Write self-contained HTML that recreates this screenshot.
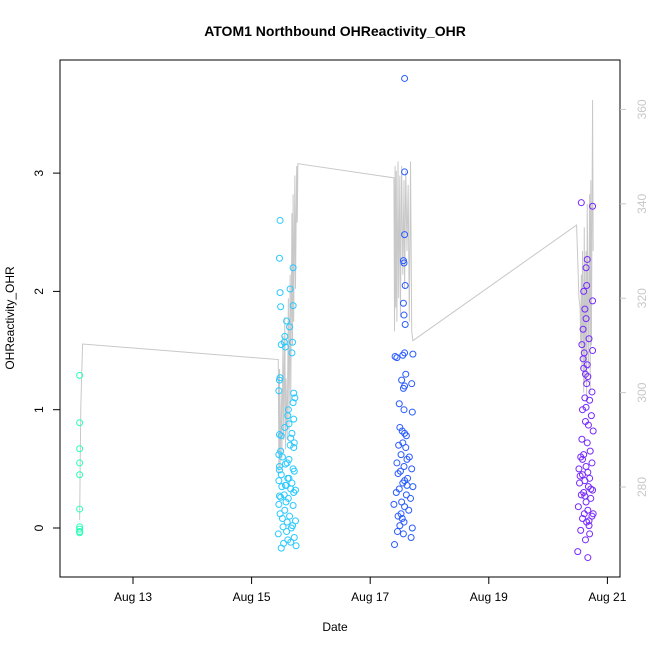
<!DOCTYPE html>
<html><head><meta charset="utf-8"><style>
body{margin:0;background:#fff;}
svg{font-family:"Liberation Sans",Arial,sans-serif;}
</style></head><body>
<svg id="chart" width="650" height="650" viewBox="0 0 650 650">
<rect x="0" y="0" width="650" height="650" fill="#fff"/>
<text x="335" y="36" text-anchor="middle" font-size="14" font-weight="bold">ATOM1 Northbound OHReactivity_OHR</text>
<rect x="60" y="60" width="560" height="517" fill="none" stroke="#000" stroke-width="1"/>
<text x="335" y="631" text-anchor="middle" font-size="12">Date</text>
<text x="0" y="0" transform="translate(14,318) rotate(-90)" text-anchor="middle" font-size="12">OHReactivity_OHR</text>
<g id="xaxis"></g>
<g id="yaxis"></g>
<g id="y2axis"></g>
<g id="line"></g>
<g id="pts"></g>
</svg>
<script>
const xTicks=[13,15,17,19,21];
const xTickLabels=["Aug 13","Aug 15","Aug 17","Aug 19","Aug 21"];
const yTicks=[0,1,2,3];
const y2Ticks=[280,300,320,340,360];
const dates1=[12.1,12.1,12.1,12.1,12.1,12.1,12.1,12.1,12.1,12.1];
const vals1=[1.29,0.89,0.67,0.55,0.45,0.16,0.01,-0.01,-0.03,-0.04];
const dates2=[15.48,15.47,15.48,15.70,15.59,15.70,15.55,15.49,15.50,15.65,15.56,15.64,15.57,15.69,15.68,15.48,15.47,15.71,15.46,15.73,15.70,15.62,15.61,15.71,15.63,15.56,15.50,15.68,15.66,15.47,15.72,15.71,15.49,15.46,15.52,15.63,15.60,15.47,15.70,15.57,15.72,15.50,15.63,15.46,15.68,15.58,15.51,15.66,15.71,15.55,15.49,15.47,15.62,15.58,15.46,15.70,15.56,15.48,15.64,15.52,15.74,15.60,15.69,15.53,15.67,15.59,15.45,15.72,15.61,15.54,15.75,15.50,15.66,15.74,15.57,15.61,15.47,15.65];
const vals2=[2.6,2.28,1.99,2.2,1.75,1.88,1.57,1.87,1.55,2.02,1.62,1.7,1.53,1.57,1.48,1.27,1.25,1.14,1.16,1.1,1.06,1.0,0.95,0.92,0.88,0.85,0.78,0.8,0.76,0.79,0.72,0.68,0.65,0.62,0.6,0.58,0.55,0.52,0.5,0.54,0.48,0.45,0.42,0.4,0.38,0.36,0.35,0.33,0.3,0.28,0.26,0.27,0.25,0.22,0.2,0.19,0.15,0.12,0.1,0.08,0.06,0.05,0.02,0.01,0.0,-0.03,-0.05,-0.08,-0.1,-0.13,-0.15,-0.17,-0.12,0.32,0.36,0.42,0.49,0.7];
const dates3=[17.58,17.58,17.58,17.56,17.57,17.59,17.56,17.57,17.59,17.58,17.42,17.45,17.72,17.55,17.60,17.53,17.70,17.58,17.56,17.49,17.57,17.71,17.50,17.54,17.58,17.61,17.55,17.48,17.60,17.52,17.66,17.62,17.45,17.57,17.70,17.51,17.47,17.63,17.58,17.55,17.72,17.49,17.44,17.61,17.68,17.53,17.40,17.58,17.65,17.52,17.47,17.54,17.57,17.50,17.71,17.46,17.56,17.69,17.41,17.62];
const vals3=[3.8,3.01,2.48,2.26,2.24,2.05,1.9,1.8,1.72,1.48,1.45,1.44,1.47,1.46,1.3,1.25,1.22,1.2,1.18,1.05,1.0,0.98,0.85,0.82,0.8,0.78,0.72,0.7,0.68,0.62,0.6,0.58,0.55,0.52,0.5,0.48,0.46,0.42,0.4,0.38,0.35,0.33,0.3,0.28,0.25,0.22,0.2,0.18,0.15,0.12,0.1,0.08,0.05,0.02,0.0,-0.03,-0.05,-0.08,-0.14,0.36];
const dates4=[20.56,20.75,20.66,20.64,20.65,20.60,20.75,20.62,20.64,20.59,20.69,20.57,20.75,20.61,20.59,20.66,20.60,20.63,20.67,20.65,20.74,20.62,20.70,20.64,20.58,20.73,20.63,20.68,20.76,20.57,20.66,20.71,20.60,20.55,20.74,20.64,20.52,20.67,20.58,20.70,20.62,20.53,20.68,20.75,20.60,20.56,20.72,20.64,20.51,20.67,20.61,20.74,20.58,20.65,20.69,20.55,20.70,20.63,20.50,20.67,20.72,20.58,20.76,20.62,20.54,20.69];
const vals4=[2.75,2.72,2.27,2.2,2.05,2.0,1.92,1.85,1.77,1.68,1.6,1.55,1.5,1.48,1.43,1.38,1.35,1.3,1.28,1.22,1.15,1.1,1.08,1.02,1.0,0.95,0.9,0.87,0.82,0.75,0.72,0.65,0.62,0.6,0.55,0.52,0.5,0.47,0.45,0.42,0.4,0.38,0.35,0.32,0.3,0.28,0.25,0.22,0.18,0.15,0.12,0.1,0.08,0.05,0.02,-0.02,-0.05,-0.1,-0.2,-0.25,0.33,0.58,0.12,0.27,0.44,0.06];
const lineDays=[12.1,12.12,12.15,15.45,15.46,15.47,15.48,15.50,15.51,15.53,15.54,15.56,15.57,15.58,15.60,15.62,15.63,15.65,15.66,15.68,15.69,15.70,15.71,15.73,15.74,15.76,15.77,15.78,17.40,17.41,17.42,17.43,17.44,17.45,17.47,17.48,17.50,17.51,17.53,17.55,17.57,17.58,17.60,17.62,17.64,17.66,17.68,17.70,17.72,20.48,20.50,20.52,20.54,20.55,20.56,20.57,20.58,20.60,20.61,20.62,20.64,20.65,20.66,20.68,20.70,20.71,20.72,20.73,20.75,20.76];
const lineVals=[273,297,310.3,307,283,305,284,300,286,312,290,316,288,303,290,320,292,325,298,338,310,342,315,346,322,348,336,348.5,345.5,313,348,318,347,315,349,320,346,316,348,325,345,322,347,330,344,315,349,313,311,335.5,328,320,318,310,325,305,330,300,335,302,330,298,340,305,342,300,345,310,362,330];

const NS="http://www.w3.org/2000/svg";
function X(d){return 133+(d-13)*59.3;}
function Y(v){return 528-v*118.3;}
function Y2(v){return 487-(v-280)*4.72;}
function hue(d){if(d<15)return 160+(d-12.1)*12;if(d<17)return 195;if(d<19)return 226;return 262;}
function mk(tag,attrs,parent){const e=document.createElementNS(NS,tag);for(const k in attrs)e.setAttribute(k,attrs[k]);parent.appendChild(e);return e;}
const xa=document.getElementById('xaxis'),ya=document.getElementById('yaxis'),y2a=document.getElementById('y2axis');
mk('line',{x1:X(13),x2:X(21),y1:577,y2:577,stroke:'#000'},xa);
xTicks.forEach((t,i)=>{mk('line',{x1:X(t),x2:X(t),y1:577,y2:584,stroke:'#000'},xa);
 const tx=mk('text',{x:X(t),y:601,'text-anchor':'middle','font-size':12},xa);tx.textContent=xTickLabels[i];
 
 });
yTicks.forEach(t=>{mk('line',{x1:53,x2:60,y1:Y(t),y2:Y(t),stroke:'#000'},ya);
 const tx=mk('text',{x:0,y:0,transform:`translate(43,${Y(t)}) rotate(-90)`,'text-anchor':'middle','font-size':12},ya);tx.textContent=t;
 
 });
y2Ticks.forEach(t=>{mk('line',{x1:620,x2:626,y1:Y2(t),y2:Y2(t),stroke:'#c8c8c8'},y2a);
 const tx=mk('text',{x:0,y:0,transform:`translate(646,${Y2(t)}) rotate(-90)`,'text-anchor':'middle','font-size':12,fill:'#c8c8c8'},y2a);tx.textContent=t;
 
 });
const pl=mk('polyline',{points:lineDays.map((d,i)=>X(d)+','+Y2(lineVals[i])).join(' '),fill:'none',stroke:'#c8c8c8','stroke-width':1},document.getElementById('line'));


const pg=document.getElementById('pts');
[[dates1,vals1],[dates2,vals2],[dates3,vals3],[dates4,vals4]].forEach(([ds,vs])=>{
 vs.forEach((v,i)=>{const d=ds[i%ds.length];
  const c=mk('circle',{cx:X(d),cy:Y(v),r:3,fill:'none',stroke:`hsl(${hue(d)},100%,58%)`,'stroke-width':1},pg);
  
  });
});
</script>
</body></html>
